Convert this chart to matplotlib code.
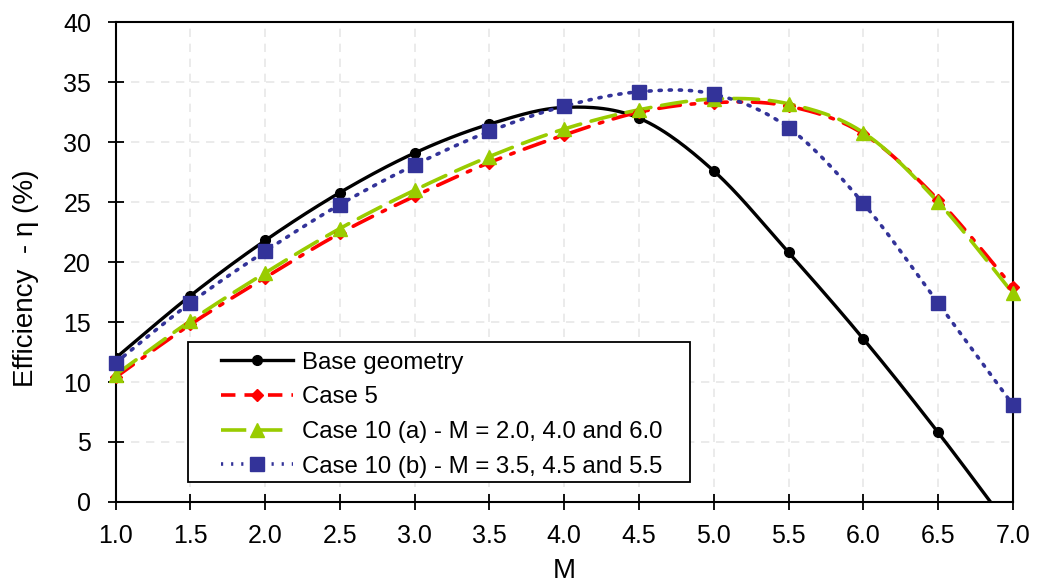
import matplotlib.pyplot as plt
import numpy as np
from matplotlib.lines import Line2D
from matplotlib.patches import Rectangle

# efficiency against M for each geometry
M = [1.0, 1.5, 2.0, 2.5, 3.0, 3.5, 4.0, 4.5, 5.0, 5.5, 6.0, 6.5, 7.0]
base = [12.0, 17.2, 21.8, 25.8, 29.1, 31.5, 32.9, 32.0, 27.6, 20.8, 13.6, 5.8, -2.5]
case5 = [10.4, 14.8, 18.7, 22.4, 25.5, 28.3, 30.6, 32.5, 33.3, 33.0, 30.7, 25.2, 17.9]
case10a = [10.6, 15.1, 19.1, 22.8, 26.0, 28.8, 31.1, 32.7, 33.6, 33.2, 30.8, 25.0, 17.4]
case10b = [11.6, 16.6, 20.9, 24.8, 28.1, 30.9, 33.0, 34.2, 34.0, 31.2, 24.9, 16.6, 8.1]

labels = ['Base geometry', 'Case 5',
          'Case 10 (a) - M = 2.0, 4.0 and 6.0',
          'Case 10 (b) - M = 3.5, 4.5 and 5.5']


def smooth(x, y, n=30):
    # spreadsheet-style smoothed line (Catmull-Rom through every point)
    x = np.asarray(x, float)
    y = np.asarray(y, float)
    px = np.concatenate([[x[0]], x, [x[-1]]])
    py = np.concatenate([[y[0]], y, [y[-1]]])
    t = np.linspace(0, 1, n)
    xs, ys = [], []
    for i in range(1, len(px) - 2):
        for p, out in ((px, xs), (py, ys)):
            p0, p1, p2, p3 = p[i - 1], p[i], p[i + 1], p[i + 2]
            b1 = p1 + (p2 - p0) / 6
            b2 = p2 - (p3 - p1) / 6
            out.extend((1 - t) ** 3 * p1 + 3 * (1 - t) ** 2 * t * b1
                       + 3 * (1 - t) * t ** 2 * b2 + t ** 3 * p2)
    return np.array(xs), np.array(ys)


plt.rcParams['font.family'] = ['Liberation Sans', 'DejaVu Sans']

fig, ax = plt.subplots(figsize=(10.42, 5.85), dpi=100)
fig.subplots_adjust(left=0.111, right=0.972, top=0.962, bottom=0.142)

styles = [
    dict(color='black', ls='-', marker='o', ms=7, lw=2.4),
    dict(color='#ff0000', ls=(0, (6, 3, 1, 3)), marker='D', ms=6.5, lw=2.6),
    dict(color='#99cc00', ls=(0, (7, 3)), marker='^', ms=10, lw=2.6),
    dict(color='#333399', ls=(0, (0.6, 2.2)), marker='s', ms=10, lw=2.6),
]
series = [base, case5, case10a, case10b]

handles = []
for y, st in zip(series, styles):
    sx, sy = smooth(M, y)
    ax.plot(sx, sy, color=st['color'], ls=st['ls'], lw=st['lw'],
            dash_capstyle='round', zorder=3)
    ax.plot(M, y, ls='none', marker=st['marker'], ms=st['ms'],
            color=st['color'], zorder=4, clip_on=(st['marker'] == 'o'))
    handles.append(Line2D([], [], color=st['color'],
                          ls=st['ls'] if st['marker'] != 'D' else (0, (4, 2.5)),
                          lw=st['lw'], marker=st['marker'], ms=st['ms']))

ax.set_xlim(1.0, 7.0)
ax.set_ylim(0, 40)
ax.set_xticks(np.arange(1.0, 7.01, 0.5))
ax.set_xticklabels([f'{v:.1f}' for v in np.arange(1.0, 7.01, 0.5)])
ax.set_yticks(range(0, 41, 5))
ax.tick_params(direction='inout', length=11.5, width=1.3, labelsize=18)
ax.tick_params(axis='x', pad=10)
ax.tick_params(axis='y', pad=12)
ax.grid(True, color='#e8e8e8', ls=(0, (5, 4)), lw=1.2)
ax.set_axisbelow(True)
for s in ax.spines.values():
    s.set_linewidth(1.5)

ax.set_xlabel('M', fontsize=20)
ax.set_ylabel('Efficiency  - η (%)', fontsize=20)
ax.xaxis.set_label_coords(0.5, -0.117)
ax.yaxis.set_label_coords(-0.085, 0.467)

# legend box with wider side margins than the row spacing
ax.add_patch(Rectangle((0.0802, 0.0417), 0.5601, 0.2916, transform=ax.transAxes,
                       facecolor='white', edgecolor='black', lw=1.3, zorder=5))
leg = ax.legend(handles, labels, loc='center left', bbox_to_anchor=(0.117, 0.182),
                borderaxespad=0, borderpad=0, fontsize=17.3, handlelength=3.0,
                labelspacing=0.53, handletextpad=0.4, frameon=False)
leg.set_zorder(6)

fig.savefig('out.png', dpi=100)
